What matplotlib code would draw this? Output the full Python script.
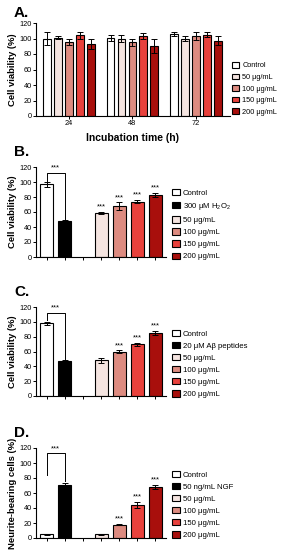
import numpy as np
import matplotlib
matplotlib.use('Agg')
import matplotlib.pyplot as plt
from matplotlib.patches import Patch

plt.rcParams['font.family'] = ['Liberation Sans', 'DejaVu Sans']
plt.rcParams['mathtext.fontset'] = 'custom'
plt.rcParams['mathtext.rm'] = 'Liberation Sans'

# ---- data ----
times = ['24', '48', '72']
conc_labels = ['Control', '50 \u03bcg/mL', '100 \u03bcg/mL', '150 \u03bcg/mL', '200 \u03bcg/mL']
a_means = [[100, 101, 96, 104, 93],
           [101, 100, 95, 103, 90],
           [106, 100, 103, 105, 97]]
a_err = [[9, 2, 4, 4, 6],
         [4, 4, 5, 4, 9],
         [3, 3, 5, 3, 6]]

b_labels = ['Control', '300 \u03bcM H$_2$O$_2$', '50 \u03bcg/mL', '100 \u03bcg/mL', '150 \u03bcg/mL', '200 \u03bcg/mL']
b_means = [97, 48, 59, 68, 74, 83]
b_err = [3, 1, 1, 5, 2, 3]
b_sig = ['', '', '***', '***', '***', '***']

c_labels = ['Control', '20 \u03bcM A\u03b2 peptides', '50 \u03bcg/mL', '100 \u03bcg/mL', '150 \u03bcg/mL', '200 \u03bcg/mL']
c_means = [98, 47, 48, 60, 70, 85]
c_err = [2, 1, 3, 2, 2, 3]
c_sig = ['', '', '', '***', '***', '***']

d_labels = ['Control', '50 ng/mL NGF', '50 \u03bcg/mL', '100 \u03bcg/mL', '150 \u03bcg/mL', '200 \u03bcg/mL']
d_means = [5, 71, 5, 18, 44, 68]
d_err = [0.5, 2, 1, 1, 4, 3]
d_sig = ['', '', '', '***', '***', '***']

conc_colors = ['white', '#f4e4e0', '#dd8b80', '#e8413c', '#a80f0c']
pos_color = 'black'

W, H = 283, 550
fig = plt.figure(figsize=(W / 100, H / 100), dpi=100)


def px_axes(x0, y_top, x1, y_bot):
    return fig.add_axes([x0 / W, 1 - y_bot / H, (x1 - x0) / W, (y_bot - y_top) / H])


def style(ax, ylabel):
    ax.set_ylim(0, 120)
    ax.set_yticks(np.arange(0, 121, 20))
    ax.spines['top'].set_visible(False)
    ax.spines['right'].set_visible(False)
    for s in ['left', 'bottom']:
        ax.spines[s].set_linewidth(0.8)
    ax.tick_params(axis='both', labelsize=5.3, width=0.7, length=2, pad=1)
    ax.set_ylabel(ylabel, fontsize=6.8, fontweight='bold', labelpad=2)


def legend(ax, labels, colors, x, y, fs=5.6):
    handles = [Patch(facecolor=c, edgecolor='black', linewidth=0.8) for c in colors]
    fig.legend(handles, labels, loc='upper left', bbox_to_anchor=(x / W, 1 - y / H),
               frameon=False, fontsize=fs, handlelength=1.0, handleheight=0.85,
               handletextpad=0.4, labelspacing=0.55, borderaxespad=0, borderpad=0)


errkw = dict(ecolor='black', capsize=2, elinewidth=0.7, capthick=0.7)

# ---- A ----
ax = px_axes(36, 23, 230, 116)
gstep = 5.8
for g in range(len(times)):
    for k in range(5):
        ax.bar(g * gstep + k - 2, a_means[g][k], width=0.72, color=conc_colors[k],
               edgecolor='black', linewidth=0.8, yerr=a_err[g][k], error_kw=errkw)
ax.set_xlim(-3.0, 2 * gstep + 3.1)
ax.set_xticks([g * gstep for g in range(len(times))])
ax.set_xticklabels(times)
style(ax, 'Cell viability (%)')
ax.set_xlabel('Incubation time (h)', fontsize=7.5, fontweight='bold', labelpad=4)
legend(ax, conc_labels, conc_colors, 232, 62, fs=5.3)
fig.text(14 / W, 1 - 13 / H, 'A.', fontsize=11, fontweight='bold', va='center')


def panel(y_top, y_bot, means, err, sig, labels, ylabel, letter, ly, bracket):
    ax = px_axes(36, y_top, 166, y_bot)
    pos = [0, 1, 3, 4, 5, 6]
    cols = ['white', pos_color] + conc_colors[1:]
    for p, m, e, c in zip(pos, means, err, cols):
        ax.bar(p, m, width=0.72, color=c, edgecolor='black', linewidth=0.8,
               yerr=e, error_kw=errkw)
    for p, m, e, s in zip(pos, means, err, sig):
        if s:
            ax.text(p, m + e + 1.5, s, ha='center', va='bottom', fontsize=5.5)
    ax.set_xlim(-0.6, 6.6)
    ax.set_xticks(range(7))
    ax.set_xticklabels([])
    style(ax, ylabel)
    top, l0, l1 = bracket
    ax.plot([0, 0, 1, 1], [l0, top, top, l1], color='black', lw=0.7)
    ax.text(0.5, top + 1.5, '***', ha='center', va='bottom', fontsize=5.5)
    legend(ax, labels, cols, 172, ly)
    fig.text(14 / W, 1 - (y_top - 15) / H, letter, fontsize=11, fontweight='bold', va='center')


panel(167, 257, b_means, b_err, b_sig, b_labels, 'Cell viability (%)', 'B.', 189,
      (112, 102, 51))
panel(307, 396, c_means, c_err, c_sig, c_labels, 'Cell viability (%)', 'C.', 330,
      (112, 102, 50))
panel(448, 538, d_means, d_err, d_sig, d_labels, 'Neurite-bearing cells (%)', 'D.', 471,
      (113, 84, 76))

fig.savefig('out.png', dpi=100)
